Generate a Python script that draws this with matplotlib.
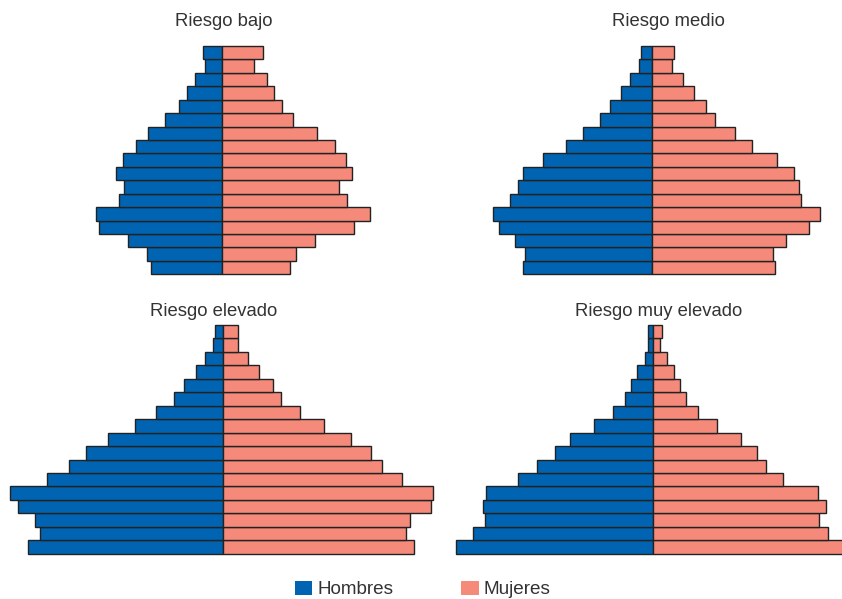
import matplotlib
matplotlib.use("Agg")
import matplotlib.pyplot as plt
from matplotlib.patches import Patch

plt.rcParams['font.family'] = ['Liberation Sans', 'DejaVu Sans']

# age groups, youngest first
ages = ["0-4", "5-9", "10-14", "15-19", "20-24", "25-29", "30-34", "35-39",
        "40-44", "45-49", "50-54", "55-59", "60-64", "65-69", "70-74", "75-79", "80+"]

# values, listed oldest -> youngest, then reversed
bajo_h = [18.7, 17.0, 26.7, 35.0, 43.0, 57.0, 74.0, 86.3, 98.7, 105.7, 97.7, 103.0, 125.7, 122.7, 93.7, 75.3, 71.3][::-1]
bajo_m = [40.7, 32.0, 45.0, 51.7, 60.0, 71.3, 95.0, 113.3, 124.3, 129.7, 117.3, 125.3, 148.0, 132.3, 93.3, 74.0, 68.3][::-1]

medio_h = [11.7, 13.0, 22.3, 31.7, 42.7, 52.0, 69.0, 86.0, 109.3, 129.3, 134.0, 142.0, 159.0, 153.0, 137.3, 127.7, 129.7][::-1]
medio_m = [22.0, 20.0, 31.0, 42.0, 53.3, 62.3, 82.7, 100.0, 124.7, 141.7, 146.3, 149.0, 168.0, 157.0, 133.7, 121.0, 123.0][::-1]

elev_h = [8.0, 10.0, 18.0, 27.3, 39.3, 49.0, 67.0, 88.0, 115.3, 137.0, 154.7, 176.0, 213.0, 205.3, 188.0, 183.7, 195.3][::-1]
elev_m = [14.3, 14.3, 24.3, 36.0, 50.0, 57.3, 77.0, 100.3, 128.0, 147.3, 159.0, 178.7, 210.0, 208.0, 186.3, 182.3, 190.3][::-1]

muy_h = [5.0, 5.0, 7.7, 15.3, 21.3, 27.3, 39.3, 58.3, 82.3, 97.3, 115.3, 134.7, 166.3, 169.3, 167.3, 179.7, 196.3][::-1]
muy_m = [9.7, 7.7, 14.0, 21.7, 27.7, 33.7, 45.7, 64.7, 88.7, 104.7, 113.7, 130.7, 165.0, 173.0, 166.0, 175.0, 192.0][::-1]

titles = ["Riesgo bajo", "Riesgo medio", "Riesgo elevado", "Riesgo muy elevado"]

BLUE = "#0064B2"
SALMON = "#F58A7B"
EDGE = "#222222"

W, H = 842, 599
fig = plt.figure(figsize=(W / 100, H / 100), dpi=100)

# panel layout in pixels: (left, right, top, bottom, centre x, title x, title y)
panels = [
    (bajo_h, bajo_m, 0, 421, 46, 274.3, 222.0, 223.5, 21),
    (medio_h, medio_m, 421, 842, 46, 274.3, 652.3, 668.5, 21),
    (elev_h, elev_m, 0, 421, 325, 553.7, 223.3, 214.0, 312),
    (muy_h, muy_m, 421, 842, 325, 553.7, 652.7, 659.0, 312),
]

y = list(range(len(ages)))
for (hom, muj, x0, x1, top, bot, cx, tx, ty), title in zip(panels, titles):
    ax = fig.add_axes([x0 / W, 1 - bot / H, (x1 - x0) / W, (bot - top) / H])
    ax.barh(y, [-v for v in hom], height=1.0, color=BLUE, edgecolor=EDGE,
            linewidth=1.0, clip_on=False)
    ax.barh(y, muj, height=1.0, color=SALMON, edgecolor=EDGE,
            linewidth=1.0, clip_on=False)
    ax.set_xlim(x0 - cx, x1 - cx)
    ax.set_ylim(-0.5, len(ages) - 0.5)
    ax.axis("off")
    fig.text(tx / W, 1 - ty / H, title, ha="center", va="center", fontsize=13.3, color="#333333")

handles = [Patch(facecolor=BLUE, edgecolor="none", label="Hombres"),
           Patch(facecolor=SALMON, edgecolor="none", label="Mujeres")]
fig.legend(handles=handles, loc="center", bbox_to_anchor=(0.502, 1 - 589.5 / H), ncol=2,
           frameon=False, fontsize=13.6, handlelength=0.92, handleheight=0.75,
           handletextpad=0.28, columnspacing=3.6, labelcolor="#333333")

fig.savefig("out.png", dpi=100)
